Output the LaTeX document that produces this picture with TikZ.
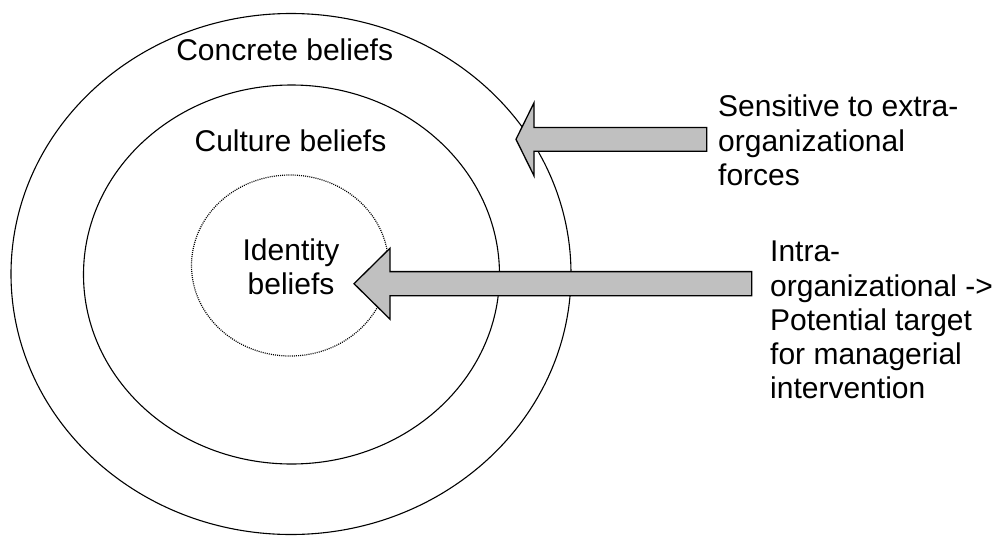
\documentclass[tikz,border=0pt]{standalone}
\usepackage{fontspec}
\setmainfont{Liberation Sans}
\usetikzlibrary{shapes.geometric,calc}
\newcommand\firstlinestrut{\rule{0pt}{25pt}}
\definecolor{arrowfill}{HTML}{C0C0C0}
\tikzset{
  ring/.style={draw, ellipse, inner sep=0pt, line width=1.1pt},
  corering/.style={ring, line width=1.2pt, dash pattern=on 1pt off 1.1pt},
  label/.style={font=\fontsize{30}{34.2}\selectfont, inner sep=0pt},
  blockarrow/.style={draw, fill=arrowfill, line width=1.3pt, line join=miter},
}
\begin{document}
\begin{tikzpicture}[x=1pt, y=-1pt]
  \useasboundingbox (0,0) rectangle (997,536);

  % nested belief layers
  \node[ring, minimum width=560pt, minimum height=521pt] (concrete) at (291,274) {};
  \node[ring, minimum width=416pt, minimum height=379pt] (culture) at (291.5,274.5) {};
  \node[corering, minimum width=197pt, minimum height=181pt] (identity) at (290,265.5) {};

  % layer names
  \node[label, anchor=base] (concretetxt) at (284.7,60.7) {Concrete beliefs};
  \node[label, anchor=base] (culturetxt) at (290.5,151.5) {Culture beliefs};
  \node[label, anchor=north, align=center] (identitytxt) at (291,235)
    {\firstlinestrut Identity\\beliefs};

  % influence sources
  \node[label, anchor=north west, align=left] (extra) at (718,91.7)
    {\firstlinestrut Sensitive to extra-\\organizational\\forces};
  \node[label, anchor=north west, align=left] (intra) at (770,236.7)
    {\firstlinestrut Intra-\\organizational ->\\Potential target\\for managerial\\intervention};

  % block arrows: tip, tail
  \coordinate (uatip) at (516,139.3);
  \coordinate (uatail) at (706.7,139.3);
  \coordinate (latip) at (354,283.7);
  \coordinate (latail) at (751.7,283.7);

  \draw[blockarrow] (uatip) -- ($(uatip)+(18,-36.5)$) -- ($(uatip)+(18,-11.9)$)
    -- ($(uatail)+(0,-11.9)$) -- ($(uatail)+(0,11.9)$)
    -- ($(uatip)+(18,11.9)$) -- ($(uatip)+(18,36.5)$) -- cycle;

  \draw[blockarrow] (latip) -- ($(latip)+(36,-35.5)$) -- ($(latip)+(36,-12.1)$)
    -- ($(latail)+(0,-12.1)$) -- ($(latail)+(0,12.1)$)
    -- ($(latip)+(36,12.1)$) -- ($(latip)+(36,35.5)$) -- cycle;
\end{tikzpicture}
\end{document}
